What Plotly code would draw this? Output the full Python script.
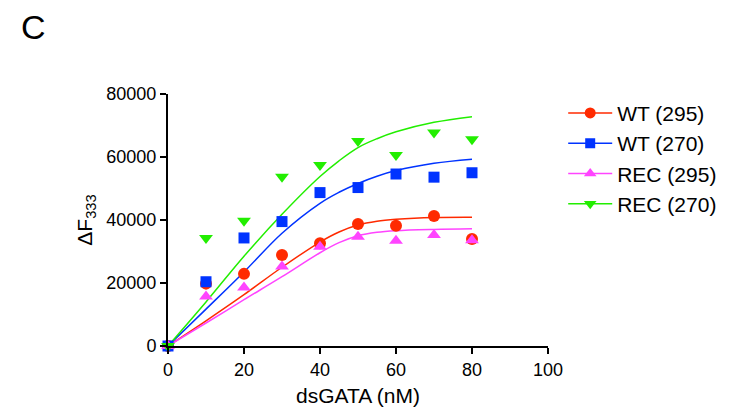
import plotly.graph_objects as go

# Concentrations (nM)
conc = [0, 10, 20, 30, 40, 50, 60, 70, 80]

# Measured ΔF333
wt295 = [0, 19800, 22900, 28900, 32600, 38700, 38200, 41300, 34000]
wt270 = [0, 20400, 34300, 39500, 48700, 50300, 54600, 53600, 55000]
rec295 = [0, 15700, 18600, 25200, 31500, 34700, 33400, 35200, 33600]
rec270 = [0, 34300, 39800, 53700, 57500, 65100, 60600, 67800, 65600]

# Fitted curves
fit_x = [0, 10, 20, 30, 40, 45, 50, 55, 60, 70, 80]
fit_wt295 = [0, 8000, 16300, 25000, 33000, 36200, 38400, 39600, 40200, 40800, 40900]
fit_wt270 = [0, 11700, 23500, 35800, 45300, 48800, 51600, 53900, 55700, 58000, 59300]
fit_rec295 = [0, 7300, 14700, 22000, 29600, 32800, 35000, 36100, 36600, 37000, 37200]
fit_rec270 = [0, 14000, 28500, 41800, 53800, 58800, 63000, 65800, 68000, 71000, 72800]

names = ["WT (295)", "WT (270)", "REC (295)", "REC (270)"]
colors = ["#FF2A00", "#0033FF", "#FF44FF", "#22EE00"]
symbols = ["circle", "square", "triangle-up", "triangle-down"]
sizes = [12, 11, 12, 12]
data = [wt295, wt270, rec295, rec270]
fits = [fit_wt295, fit_wt270, fit_rec295, fit_rec270]

fig = go.Figure()
for name, c, s, sz, d, f in zip(names, colors, symbols, sizes, data, fits):
    fig.add_trace(go.Scatter(x=fit_x, y=f, mode="lines", line=dict(color=c, width=1.5, shape="spline"),
                             showlegend=False, cliponaxis=False, hoverinfo="skip"))
for name, c, s, sz, d, f in zip(names, colors, symbols, sizes, data, fits):
    fig.add_trace(go.Scatter(x=conc, y=d, mode="markers", marker=dict(color=c, symbol=s, size=sz, line=dict(width=0)),
                             showlegend=False, cliponaxis=False))
for name, c, s, sz, d, f in zip(names, colors, symbols, sizes, data, fits):
    fig.add_trace(go.Scatter(x=[None], y=[None], mode="lines+markers", name=name,
                             line=dict(color=c, width=1.5), marker=dict(color=c, symbol=s, size=sz - 1)))

font = "Liberation Sans, Arial, Helvetica, sans-serif"
L, T, W, H = 160, 86, 380, 252
fig.update_layout(
    width=730, height=410,
    margin=dict(l=L, r=730 - L - W, t=T, b=410 - T - H),
    paper_bgcolor="white", plot_bgcolor="white",
    font=dict(family=font, size=18, color="black"),
    showlegend=True,
    legend=dict(x=1.04, y=1.005, xanchor="left", yanchor="top", font=dict(size=21),
                itemwidth=44, tracegroupgap=0, bgcolor="rgba(0,0,0,0)"),
    xaxis=dict(range=[0, 100], tickvals=[0, 20, 40, 60, 80, 100], showline=True, linewidth=2,
               linecolor="black", ticks="outside", ticklen=6, tickwidth=2, tickcolor="black",
               showgrid=False, zeroline=False, tickfont=dict(size=18),
               title=dict(text="dsGATA (nM)", font=dict(size=21), standoff=10)),
    yaxis=dict(range=[0, 80000], tickvals=[0, 20000, 40000, 60000, 80000], tickformat="d",
               showline=True, linewidth=2, linecolor="black", ticks="outside", ticklen=6, tickwidth=2,
               tickcolor="black", showgrid=False, zeroline=False, tickfont=dict(size=18),
               title=dict(text="ΔF<sub>333</sub>", font=dict(size=21), standoff=8)),
    annotations=[dict(text="C", xref="paper", yref="paper", showarrow=False,
                      x=(25 - L) / W, y=1 + (T - 19) / H, xanchor="center", yanchor="middle",
                      font=dict(size=34, color="black"))],
)

fig.write_html("out.html")
